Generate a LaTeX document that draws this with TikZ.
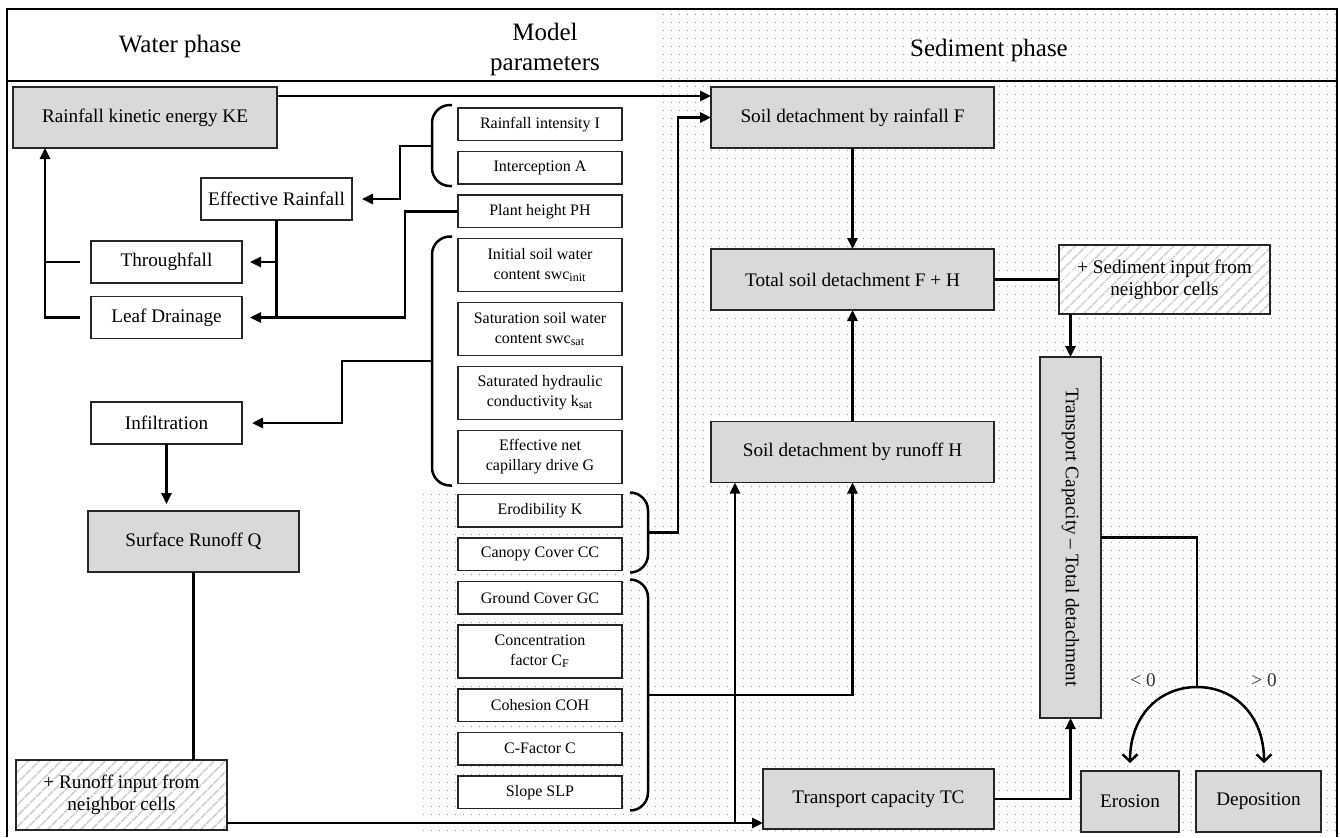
\documentclass[tikz,border=0pt]{standalone}
\usepackage{fontspec}
\setmainfont{Liberation Serif}
\usetikzlibrary{positioning,calc,arrows.meta,patterns.meta}

\tikzset{
  gbox/.style={draw=black!85, line width=0.7pt, fill=gray!30, inner sep=1pt, outer sep=0pt, align=center},
  wbox/.style={draw=black!85, line width=0.7pt, fill=white, inner sep=1pt, outer sep=0pt, align=center},
  wsmall/.style={wbox, minimum width=75.5pt, minimum height=21pt},
  pbox/.style={wbox, minimum width=82pt, font=\fontsize{8}{10}\selectfont},
  pone/.style={pbox, minimum height=16.25pt},
  ptwo/.style={pbox, minimum height=26.5pt},
  hbox/.style={draw=black!85, line width=0.7pt, preaction={fill=white},
    pattern={Lines[angle=45,distance=4pt,line width=1pt]}, pattern color=gray!35,
    inner sep=1pt, outer sep=0pt, align=center},
  arr/.style={line width=1.25pt, -{Triangle[length=5.5pt,width=5pt]}},
  barb/.style={line width=1.25pt, -{Straight Barb[length=3.5pt,width=7.5pt]}},
  link/.style={line width=1.25pt},
  brace/.style={line width=1.25pt, rounded corners=9pt},
  head/.style={font=\fontsize{12.5}{15}\selectfont, align=center},
}

\begin{document}
\begin{tikzpicture}[x=0.5pt, y=-0.5pt, every node/.append style={font=\fontsize{9.6}{11}\selectfont}]
  \useasboundingbox (0,0) rectangle (1340,837);

  % Fond pointillé (phase sédiment)
  \fill[pattern={Dots[distance=4pt,radius=0.4pt]}, pattern color=gray!75]
    (662,9) -- (1337,9) -- (1337,837) -- (423,837) -- (423,487) -- (662,487) -- cycle;

  % Cadre et en-têtes
  \draw[line width=0.8pt] (7,837) -- (7,9) -- (1337,9) -- (1337,837);
  \draw[line width=0.8pt] (7,81) -- (1337,81);
  \node[head] (hwater) at (180,46) {Water phase};
  \node[head] (hmodel) at (545,49) {Model\\parameters};
  \node[head] (hsed) at (989,50) {Sediment phase};

  % Phase eau
  \node[gbox, minimum width=132pt, minimum height=30.5pt] (ke) at (145,117.5) {Rainfall kinetic energy KE};
  \node[wsmall] (effr) at (276.5,199) {Effective Rainfall};
  \node[wsmall] (thr) at (166.5,262) {Throughfall};
  \node[wsmall] (leaf) at (166.5,317.5) {Leaf Drainage};
  \node[wsmall] (infil) at (166.5,423) {Infiltration};
  \node[gbox, minimum width=105.5pt, minimum height=30.5pt] (runq) at (193.5,541.5) {Surface Runoff Q};
  \node[hbox, minimum width=105.5pt, minimum height=35pt] (runin) at (121.5,795) {+ Runoff input from\\neighbor cells};

  % Paramètres du modèle
  \node[pone, anchor=north] (p1) at (540,108) {Rainfall intensity I};
  \node[pone, below=5.5pt of p1] (p2) {Interception A};
  \node[pone, below=5.5pt of p2] (p3) {Plant height PH};
  \node[ptwo, below=5.5pt of p3] (p4) {Initial soil water\\content swc\textsubscript{init}};
  \node[ptwo, below=5.5pt of p4] (p5) {Saturation soil water\\content swc\textsubscript{sat}};
  \node[ptwo, below=5.5pt of p5] (p6) {Saturated hydraulic\\conductivity k\textsubscript{sat}};
  \node[ptwo, below=5.5pt of p6] (p7) {Effective net\\capillary drive G};
  \node[pone, below=5.5pt of p7] (p8) {Erodibility K};
  \node[pone, below=5.5pt of p8] (p9) {Canopy Cover CC};
  \node[pone, below=5.5pt of p9] (p10) {Ground Cover GC};
  \node[ptwo, below=5.5pt of p10] (p11) {Concentration\\factor C\textsubscript{F}};
  \node[pone, below=5.5pt of p11] (p12) {Cohesion COH};
  \node[pone, below=5.5pt of p12] (p13) {C-Factor C};
  \node[pone, below=5.5pt of p13] (p14) {Slope SLP};

  % Phase sédiment
  \node[gbox, minimum width=141.5pt, minimum height=30.5pt] (f) at (852.5,117.5) {Soil detachment by rainfall F};
  \node[gbox, minimum width=141.5pt, minimum height=30.5pt] (tot) at (852.5,279.5) {Total soil detachment F + H};
  \node[gbox, minimum width=141.5pt, minimum height=30.5pt] (h) at (852.5,452) {Soil detachment by runoff H};
  \node[gbox, minimum width=115.5pt, minimum height=30pt] (tc) at (878.5,799) {Transport capacity TC};
  \node[hbox, minimum width=105.5pt, minimum height=34.5pt] (sedin) at (1164.5,279.5) {+ Sediment input from\\neighbor cells};
  \node[gbox, rotate=-90, minimum width=180.5pt, minimum height=30.5pt] (tcd) at (1070.5,537.5) {Transport Capacity -- Total detachment};
  \node[gbox, minimum width=49pt, minimum height=30.5pt] (ero) at (1130,801.5) {Erosion};
  \node[gbox, minimum width=62.5pt, minimum height=30.5pt] (dep) at (1258.5,801.5) {Deposition};

  % Accolades
  \draw[brace] ([xshift=-3pt,yshift=1.5pt]p1.north west) -- ++(-10pt,0) |- ([xshift=-3pt,yshift=-1pt]p2.south west);
  \draw[brace] ([xshift=-3pt,yshift=1pt]p4.north west) -- ++(-10pt,0) |- ([xshift=-3pt,yshift=-1pt]p7.south west);
  \draw[brace] ([xshift=4pt,yshift=1pt]p8.north east) -- ++(9pt,0) |- ([xshift=4pt,yshift=-1pt]p9.south east);
  \draw[brace] ([xshift=4pt,yshift=1pt]p10.north east) -- ++(9pt,0) |- ([xshift=4pt,yshift=-1pt]p14.south east);
  \coordinate (br1) at ($(p1.north west)!0.5!(p2.south west)+(-13pt,0)$);
  \coordinate (br2) at ($(p4.north west)!0.5!(p7.south west)+(-13pt,0)$);
  \coordinate (br3) at ($(p8.north east)!0.5!(p9.south east)+(13pt,0)$);
  \coordinate (br4) at ($(p10.north east)!0.5!(p14.south east)+(13pt,0)$);

  % Liaisons phase eau
  \draw[arr] ([xshift=-5.5pt]leaf.west) -| ([xshift=16pt]ke.south west);
  \draw[link] ([xshift=-5.5pt]thr.west) -- ++(-17.5pt,0);
  \draw[arr, shorten >=4pt] (effr.south) |- (leaf.east);
  \draw[arr, shorten >=4pt] (effr.south |- thr.east) -- (thr.east);
  \draw[link] (p3.west) -- ++(-26.5pt,0) |- (effr.south |- leaf.east);
  \draw[arr, shorten >=5pt] (br1) -- ++(-16pt,0) |- (effr.east);
  \draw[arr, shorten >=5pt] (br2) -- ++(-45pt,0) |- (infil.east);
  \draw[arr, shorten >=3.5pt] (infil.south) -- (infil.south |- runq.north);
  \draw[link] (runq.south) -- (runq.south |- runin.north);

  % Liaisons phase sédiment
  \coordinate (fin) at ([yshift=-4.5pt]f.north west);
  \draw[arr] (ke.east |- fin) -- (fin);
  \draw[arr] (br3) -- ++(15pt,0) |- (f.west);
  \draw[arr] (br4) -| (h.south);
  \coordinate (tcin) at ([yshift=3pt]tc.south west);
  \draw[arr] (runin.east |- tcin) -- (tcin);
  \coordinate (jn) at ([xshift=-14pt]tcin);
  \draw[arr] (jn) -- (jn |- h.south);
  \draw[arr] (f) -- (tot);
  \draw[arr] (h) -- (tot);
  \draw[link] (tot) -- (sedin);
  \draw[arr] (sedin.south -| tcd.west) -- (tcd.west);
  \draw[arr] (tc.east) -| (tcd.east);

  % Bilan : érosion ou dépôt
  \coordinate (split) at (1197,687);
  \coordinate (eroin) at ([yshift=4pt]ero.north);
  \coordinate (depin) at ([xshift=2.75pt,yshift=4pt]dep.north);
  \draw[link] (tcd.north) -| (split);
  \draw[barb] (split) .. controls (1160,687) and (eroin |- 715,715) .. (eroin);
  \draw[barb] (split) .. controls (1234,687) and (depin |- 715,715) .. (depin);
  \node[text=black!80] (lt) at (1143,680) {< 0};
  \node[text=black!80] (gt) at (1264,680) {> 0};
\end{tikzpicture}
\end{document}
